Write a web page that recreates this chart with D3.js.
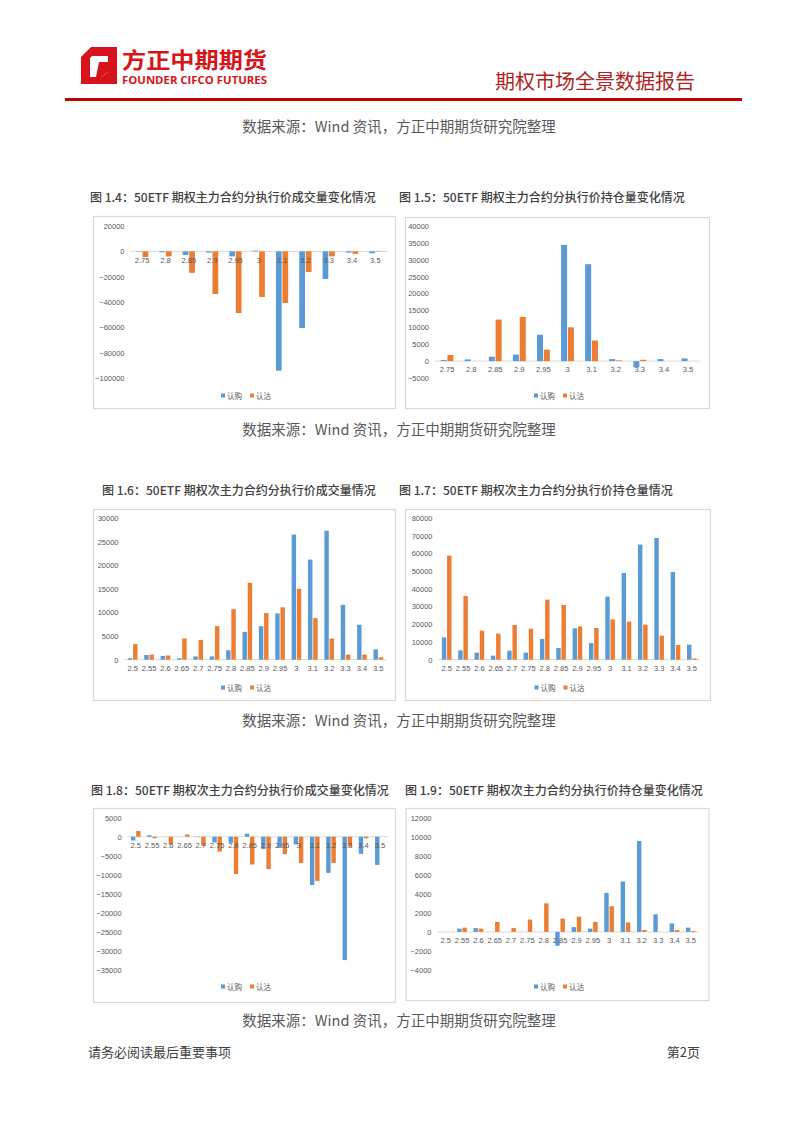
<!DOCTYPE html>
<html>
<head>
<meta charset="utf-8">
<script src="https://cdn.jsdelivr.net/npm/d3@7"></script>
<style>
  html, body { margin: 0; padding: 0; background: #fff; }
  svg { display: block; }
  text { font-family: "Noto Sans CJK SC", "Noto Sans", sans-serif; }
</style>
</head>
<body>
<svg id="page" width="802" height="1133"></svg>
<script>
// ---------------- DATA ----------------
const categories11 = ["2.75","2.8","2.85","2.9","2.95","3","3.1","3.2","3.3","3.4","3.5"];
const categories16 = ["2.5","2.55","2.6","2.65","2.7","2.75","2.8","2.85","2.9","2.95","3","3.1","3.2","3.3","3.4","3.5"];
const seriesNames = ["认购", "认沽"];

// 图1.4 50ETF期权主力合约分执行价成交量变化
const fig14Call = [-300, -800, -2900, -1000, -4000, 600, -94200, -60500, -21800, -1000, -1500];
const fig14Put  = [-4500, -4000, -17000, -33700, -48700, -36000, -40800, -16300, -4000, -2000, -300];
const fig14Ticks = [20000, 0, -20000, -40000, -60000, -80000, -100000];

// 图1.5 50ETF期权主力合约分执行价持仓量变化
const fig15Call = [300, 500, 1300, 1900, 7800, 34400, 28700, 600, -1800, 600, 800];
const fig15Put  = [1800, 0, 12300, 13100, 3400, 10000, 6100, 200, 400, 0, 0];
const fig15Ticks = [40000, 35000, 30000, 25000, 20000, 15000, 10000, 5000, 0, -5000];

// 图1.6 50ETF期权次主力合约分执行价成交量
const fig16Call = [300, 1000, 800, 300, 700, 700, 2000, 5900, 7100, 9800, 26500, 21200, 27300, 11600, 7400, 2200];
const fig16Put  = [3300, 1100, 900, 4500, 4200, 7100, 10700, 16300, 9900, 11100, 15000, 8800, 4500, 1100, 1100, 500];
const fig16Ticks = [30000, 25000, 20000, 15000, 10000, 5000, 0];

// 图1.7 50ETF期权次主力合约分执行价持仓量
const fig17Call = [12600, 5300, 4000, 2300, 5100, 4000, 11700, 6600, 17700, 9400, 35600, 49000, 65000, 68700, 49500, 8500];
const fig17Put  = [58800, 36000, 16400, 14700, 19600, 17500, 33900, 30900, 18800, 17900, 22800, 21500, 19800, 13600, 8300, 700];
const fig17Ticks = [80000, 70000, 60000, 50000, 40000, 30000, 20000, 10000, 0];

// 图1.8 50ETF期权次主力合约分执行价成交量变化
const fig18Call = [-1000, 400, 0, 0, -100, -1500, -1600, 800, -3200, -2900, -2000, -12700, -9500, -32400, -4500, -7400];
const fig18Put  = [1500, -400, -2000, 600, -2400, -3900, -9800, -7300, -8500, -4600, -6900, -11600, -6900, -2600, -400, 0];
const fig18Ticks = [5000, 0, -5000, -10000, -15000, -20000, -25000, -30000, -35000];

// 图1.9 50ETF期权次主力合约分执行价持仓量变化
const fig19Call = [0, 350, 400, 0, 0, 0, 0, -1450, 500, 350, 4100, 5300, 9550, 1850, 900, 450];
const fig19Put  = [0, 450, 350, 1050, 400, 1300, 3000, 1400, 1600, 1050, 2700, 1000, 200, 0, 200, 100];
const fig19Ticks = [12000, 10000, 8000, 6000, 4000, 2000, 0, -2000, -4000];

const titles = [
  "图 1.4：50ETF 期权主力合约分执行价成交量变化情况",
  "图 1.5：50ETF 期权主力合约分执行价持仓量变化情况",
  "图 1.6：50ETF 期权次主力合约分执行价成交量情况",
  "图 1.7：50ETF 期权次主力合约分执行价持仓量情况",
  "图 1.8：50ETF 期权次主力合约分执行价成交量变化情况",
  "图 1.9：50ETF 期权次主力合约分执行价持仓量变化情况"
];
const sourceText = "数据来源：Wind 资讯，方正中期期货研究院整理";
const reportTitle = "期权市场全景数据报告";
const companyCN = "方正中期期货";
const companyEN = "FOUNDER CIFCO FUTURES";
const footerLeft = "请务必阅读最后重要事项";
const footerRight = "第2页";

// ---------------- LAYOUT / STYLE ----------------
const COLORS = ["#5B9BD5", "#ED7D31"];
const RED = "#C3161C";
const svg = d3.select("#page");

// Header: logo
const logo = svg.append("g");
logo.append("path")
  .attr("d", "M91,47 L117,47 L117,84 L81,84 L81,57 Z")
  .attr("fill", "#D7141A");
logo.append("path")
  .attr("d", "M92,56 L108,56 L108,72 L101,77 L90,77 L90,58 Z")
  .attr("fill", "#fff");
logo.append("path")
  .attr("d", "M99,62 L108,62 L108,72 L101,77 L96,77 Z")
  .attr("fill", "#D7141A");
logo.append("text")
  .attr("x", 122).attr("y", 68)
  .attr("font-size", 22).attr("font-weight", 700)
  .attr("fill", "#D7141A")
  .attr("textLength", 145).attr("lengthAdjust", "spacingAndGlyphs")
  .text(companyCN);
logo.append("text")
  .attr("x", 122).attr("y", 84)
  .attr("font-size", 10.5).attr("font-weight", 700)
  .attr("fill", "#D7141A")
  .attr("textLength", 145).attr("lengthAdjust", "spacingAndGlyphs")
  .style("font-family", "'Open Sans', 'Liberation Sans', sans-serif")
  .text(companyEN);

svg.append("text")
  .attr("x", 695).attr("y", 89)
  .attr("text-anchor", "end")
  .attr("font-size", 20)
  .attr("fill", "#B01F24")
  .text(reportTitle);

svg.append("rect")
  .attr("x", 65).attr("y", 98).attr("width", 677).attr("height", 3)
  .attr("fill", "#C00000");

// Source lines
[127, 430, 721, 1021].forEach(y => {
  svg.append("text")
    .attr("x", 399).attr("y", y + 5)
    .attr("text-anchor", "middle")
    .attr("font-size", 14.5)
    .attr("fill", "#595959")
    .text(sourceText);
});

// Footer
svg.append("text").attr("x", 88).attr("y", 1057)
  .attr("font-size", 13).attr("fill", "#404040").text(footerLeft);
svg.append("text").attr("x", 700).attr("y", 1057).attr("text-anchor", "end")
  .attr("font-size", 13).attr("fill", "#404040").text(footerRight);

// Charts
const charts = [
  { title: titles[0], tx: 90,  ty: 202, box: [93, 216, 302, 192],  cats: categories11, call: fig14Call, put: fig14Put, ticks: fig14Ticks,
    plot: [130.5, 387], yr: [378, 226], legendY: 396, barFrac: 0.245 },
  { title: titles[1], tx: 399, ty: 202, box: [405, 217, 304, 191], cats: categories11, call: fig15Call, put: fig15Put, ticks: fig15Ticks,
    plot: [435, 700], yr: [378, 226], legendY: 396, barFrac: 0.25 },
  { title: titles[2], tx: 102, ty: 495, box: [93, 509, 302, 191],  cats: categories16, call: fig16Call, put: fig16Put, ticks: fig16Ticks,
    plot: [124.5, 386.5], yr: [659.7, 518], legendY: 688, barFrac: 0.27 },
  { title: titles[3], tx: 399, ty: 495, box: [405, 509, 305, 191], cats: categories16, call: fig17Call, put: fig17Put, ticks: fig17Ticks,
    plot: [438.5, 700], yr: [659.7, 518], legendY: 688, barFrac: 0.27 },
  { title: titles[4], tx: 91,  ty: 795, box: [93, 808, 302, 194],  cats: categories16, call: fig18Call, put: fig18Put, ticks: fig18Ticks,
    plot: [127.6, 388], yr: [970, 817.7], legendY: 987, barFrac: 0.27 },
  { title: titles[5], tx: 405, ty: 795, box: [405.5, 808, 303, 192], cats: categories16, call: fig19Call, put: fig19Put, ticks: fig19Ticks,
    plot: [437.5, 699], yr: [970, 817.7], legendY: 987, barFrac: 0.27 }
];

charts.forEach(cfg => {
  const g = svg.append("g");
  // title
  g.append("text")
    .attr("x", cfg.tx).attr("y", cfg.ty)
    .attr("font-size", 12).attr("font-weight", 500)
    .attr("fill", "#404040")
    .text(cfg.title);
  // box
  const [bx, by, bw, bh] = cfg.box;
  g.append("rect")
    .attr("x", bx + 0.5).attr("y", by + 0.5).attr("width", bw).attr("height", bh)
    .attr("fill", "#fff").attr("stroke", "#D9D9D9").attr("stroke-width", 1.2);

  const x = d3.scaleBand().domain(cfg.cats).range(cfg.plot).paddingInner(0).paddingOuter(0);
  const ext = d3.extent(cfg.ticks);
  const y = d3.scaleLinear().domain(ext).range(cfg.yr);
  const bw2 = x.bandwidth() * cfg.barFrac;

  // y axis labels
  const yAxis = d3.axisLeft(y).tickValues(cfg.ticks).tickSize(0).tickPadding(6).tickFormat(d3.format("d"));
  const ya = g.append("g").attr("transform", `translate(${cfg.plot[0]},0)`).call(yAxis);
  ya.select(".domain").remove();
  ya.selectAll("text").attr("font-size", 7.5).attr("fill", "#595959")
    .style("font-family", "'Liberation Sans', 'Noto Sans', sans-serif");

  // zero line
  g.append("line")
    .attr("x1", cfg.plot[0]).attr("x2", cfg.plot[1])
    .attr("y1", y(0)).attr("y2", y(0))
    .attr("stroke", "#D9D9D9").attr("stroke-width", 1);

  // bars
  [cfg.call, cfg.put].forEach((vals, si) => {
    g.append("g").selectAll("rect")
      .data(vals.map((v, i) => ({ c: cfg.cats[i], v })))
      .join("rect")
      .attr("x", d => x(d.c) + x.bandwidth() / 2 - (si === 0 ? bw2 + 0.4 : -0.4))
      .attr("width", bw2)
      .attr("y", d => Math.min(y(d.v), y(0)))
      .attr("height", d => Math.abs(y(d.v) - y(0)))
      .attr("fill", COLORS[si]);
  });

  // x axis labels (next to axis)
  const xAxis = d3.axisBottom(x).tickSize(0).tickPadding(6);
  const xa = g.append("g").attr("transform", `translate(0,${y(0)})`).call(xAxis);
  xa.select(".domain").remove();
  xa.selectAll("text").attr("font-size", 7.5).attr("fill", "#595959")
    .style("font-family", "'Liberation Sans', 'Noto Sans', sans-serif");

  // legend
  const cx = bx + bw / 2 + 2;
  const lg = g.append("g").attr("transform", `translate(${cx - 25},${cfg.legendY})`);
  seriesNames.forEach((name, i) => {
    const off = i * 29;
    lg.append("rect").attr("x", off).attr("y", -2.5).attr("width", 4).attr("height", 4).attr("fill", COLORS[i]);
    lg.append("text").attr("x", off + 6).attr("y", 2.8)
      .attr("font-size", 7.5).attr("fill", "#595959").text(name);
  });
});
</script>
</body>
</html>
